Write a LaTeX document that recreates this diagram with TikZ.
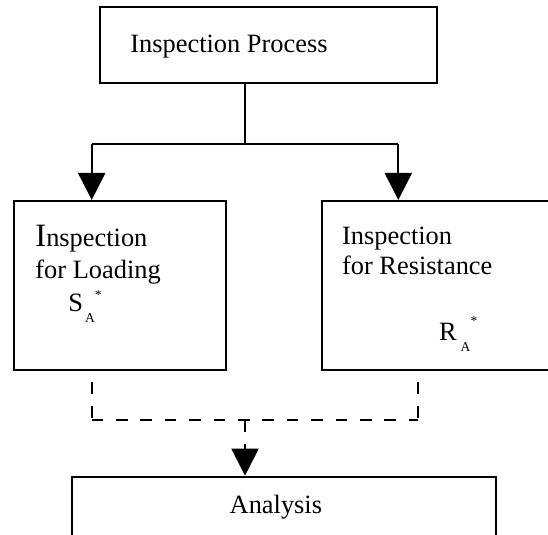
\documentclass[tikz,border=0pt]{standalone}
\usepackage{fontspec}
\setmainfont{Liberation Serif}
\usetikzlibrary{arrows.meta}

\newcommand{\bodyfont}{\fontsize{13.2pt}{15.8pt}\selectfont}
\newcommand{\smallfont}{\fontsize{6.8pt}{8pt}\selectfont}
% variable with subscript A and a star
\newcommand{\starvar}[4]{#1\kern#2\raisebox{-#3}{\smallfont A}\raisebox{#4}{\smallfont *}}

\tikzset{
  box/.style={draw, line width=1pt, inner sep=0pt},
  txt/.style={anchor=base west, inner sep=0pt, font=\bodyfont},
  wire/.style={line width=1pt},
  dashline/.style={line width=1pt, dash pattern=on 5.8pt off 6.4pt},
  arr/.style={-{Triangle[width=13.5pt,length=13.5pt]}}
}

\begin{document}
\begin{tikzpicture}[x=0.5pt, y=-0.5pt]
  \useasboundingbox (0,0) rectangle (548,535);
  \clip (0,0) rectangle (548,535);

  % Boxes
  \node[box, minimum width=168.25pt, minimum height=38pt] (proc) at (268.75,45) {};
  \node[box, minimum width=105.85pt, minimum height=84.5pt] (load) at (119.85,285.5) {};
  \node[box, minimum width=116.65pt, minimum height=84.5pt] (resist) at (438.35,285.5) {};
  \node[box, minimum width=211.95pt, minimum height=46.65pt] (analysis) at (283.65,523.35) {};

  % Texts
  \node[txt] (proctxt) at (130,53) {Inspection Process};
  \node[txt] (loadA) at (35,246.7) {{\fontsize{16.3pt}{18pt}\selectfont I}nspection};
  \node[txt] (loadB) at (35,278.3) {for Loading};
  \node[txt] (loadS) at (68,311.7) {\starvar{S}{1pt}{5.2pt}{6.2pt}};
  \node[txt] (resA) at (341.7,245) {Inspection};
  \node[txt] (resB) at (341.7,275) {for Resistance};
  \node[txt] (resR) at (438.7,341) {\starvar{R}{2pt}{5.5pt}{7.5pt}};
  \node[txt] (anatxt) at (229.3,513.3) {Analysis};

  % Split from the top box
  \coordinate (split) at (245,144);
  \coordinate (jl) at (91.7,144);
  \coordinate (jr) at (398.3,144);
  \draw[wire] (proc.south -| split) -- (split);
  \draw[wire] (jl) -- (jr);
  \draw[wire, arr] (jl) -- (jl |- load.north);
  \draw[wire, arr] (jr) -- (jr |- resist.north);

  % Dashed merge into the analysis
  \coordinate (dl) at (91.7,382);
  \coordinate (dr) at (418.3,382);
  \coordinate (merge) at (245,420);
  \draw[dashline] (dl) -- (dl |- merge);
  \draw[dashline] (dl |- merge) -- (dr |- merge);
  \draw[dashline] (dr) -- (dr |- merge);
  \draw[dashline, arr] (merge) -- (merge |- analysis.north);
\end{tikzpicture}
\end{document}
